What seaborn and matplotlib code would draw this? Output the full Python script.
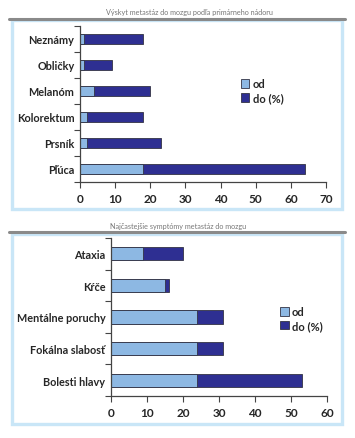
import matplotlib
matplotlib.use("Agg")
import matplotlib.pyplot as plt
import seaborn as sns
import pandas as pd
from matplotlib.patches import Rectangle
from matplotlib.lines import Line2D

# ---- data ----
title1 = "Výskyt metastáz do mozgu podľa primárneho nádoru"
cats1 = ["Neznámy", "Obličky", "Melanóm", "Kolorektum", "Prsník", "Pľúca"]
od1 = [1, 1, 4, 2, 2, 18]
do1 = [18, 9, 20, 18, 23, 64]
xticks1 = [0, 10, 20, 30, 40, 50, 60, 70]

title2 = "Najčastejšie symptómy metastáz do mozgu"
cats2 = ["Ataxia", "Kŕče", "Mentálne poruchy", "Fokálna slabosť", "Bolesti hlavy"]
od2 = [9, 15, 24, 24, 24]
do2 = [20, 16, 31, 31, 53]
xticks2 = [0, 10, 20, 30, 40, 50, 60]

legend_labels = ["od", "do (%)"]

sns.set_theme(style="white")
plt.rcParams['font.family'] = ['Lato', 'DejaVu Sans']

W, H = 355, 439
fig = plt.figure(figsize=(W / 100, H / 100), dpi=100)

LIGHT = "#8db8e3"
DARK = "#2e2f92"
EDGE = "#333344"
FRAME = "#c9e6f7"


def fx(px):
    return px / W


def fy(py):
    return 1 - py / H


def panel(title, cats, od, do, xticks, box, line_y, title_xy, ax_rect, leg_pos):
    fig.text(fx(title_xy[0]), fy(title_xy[1]), title, ha="center", va="center",
             fontsize=5.2, color="#777777")
    x0, y0, x1, y1 = box
    fig.patches.append(Rectangle((fx(x0), fy(y1)), fx(x1 - x0), (y1 - y0) / H,
                                 transform=fig.transFigure, fill=False,
                                 edgecolor=FRAME, linewidth=2.4, zorder=0))
    fig.lines.append(Line2D([fx(9), fx(345)], [fy(line_y), fy(line_y)],
                            transform=fig.transFigure, color="#8a8a8a",
                            linewidth=2.2))
    l, t, r, b = ax_rect
    ax = fig.add_axes([fx(l), fy(b), fx(r - l), (b - t) / H])
    df = pd.DataFrame({"cat": cats, "od": od, "do": do})
    sns.barplot(data=df, x="do", y="cat", orient="h", color=DARK,
                edgecolor=EDGE, linewidth=0.6, width=0.42, ax=ax,
                saturation=1, label=legend_labels[1])
    sns.barplot(data=df, x="od", y="cat", orient="h", color=LIGHT,
                edgecolor=EDGE, linewidth=0.6, width=0.42, ax=ax,
                saturation=1, label=legend_labels[0])
    n = len(cats)
    ax.set_ylim(n - 0.5, -0.5)
    ax.set_xlim(xticks[0], xticks[-1])
    ax.set_xticks(xticks)
    ax.set_xticklabels([str(v) for v in xticks], fontsize=8.5, fontweight="bold")
    ax.set_yticks(range(n))
    ax.set_yticklabels(cats, fontsize=7.8, fontweight="bold")
    ax.set_yticks([i - 0.5 for i in range(n + 1)], minor=True)
    ax.tick_params(axis="y", which="major", length=0, pad=4)
    ax.tick_params(axis="y", which="minor", length=4, width=0.8,
                   color="#444444", left=True)
    ax.tick_params(axis="x", length=4, width=0.8, color="#444444",
                   bottom=True, pad=4)
    ax.set_xlabel("")
    ax.set_ylabel("")
    for s in ["top", "right"]:
        ax.spines[s].set_visible(False)
    for s in ["left", "bottom"]:
        ax.spines[s].set_color("#444444")
        ax.spines[s].set_linewidth(0.9)
    handles, labels = ax.get_legend_handles_labels()
    order = [labels.index(legend_labels[0]), labels.index(legend_labels[1])]
    ax.legend([handles[i] for i in order], [labels[i] for i in order],
              loc="center left", bbox_to_anchor=leg_pos, frameon=False,
              prop={"size": 8, "weight": "bold"}, handlelength=0.8,
              handleheight=0.8, handletextpad=0.3, labelspacing=0.25,
              borderpad=0)
    return ax


panel(title1, cats1, od1, do1, xticks1, box=(12, 21, 342, 210), line_y=20,
      title_xy=(189, 13), ax_rect=(80, 27, 326, 183), leg_pos=(0.63, 0.585))
panel(title2, cats2, od2, do2, xticks2, box=(12, 235, 342, 425), line_y=233,
      title_xy=(178, 226), ax_rect=(111, 239, 327, 397), leg_pos=(0.755, 0.49))

fig.savefig("out.png", dpi=100)
